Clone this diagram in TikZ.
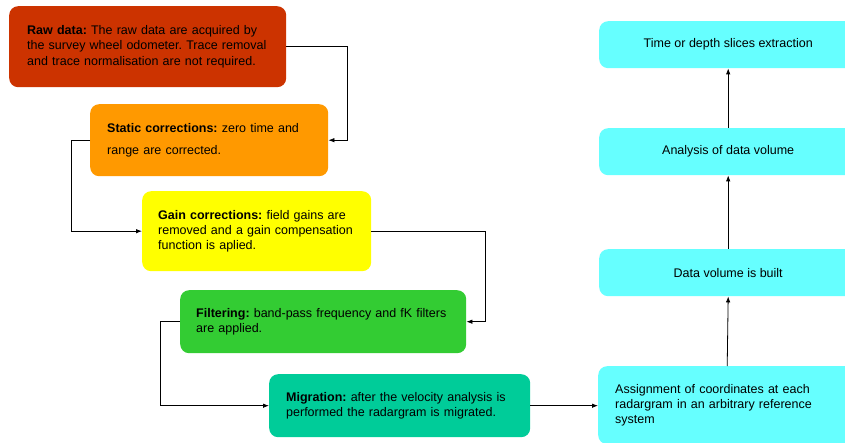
\documentclass[tikz,border=0pt]{standalone}
\usepackage{fontspec}
\setmainfont{Liberation Sans}
\usetikzlibrary{arrows.meta}
\definecolor{cRaw}{HTML}{CC3300}
\definecolor{cStatic}{HTML}{FF9900}
\definecolor{cGain}{HTML}{FFFF00}
\definecolor{cFilt}{HTML}{33CC33}
\definecolor{cMig}{HTML}{00CC99}
\definecolor{cCyan}{HTML}{66FFFF}
\tikzset{
  box/.style={rounded corners=9pt, draw=none, anchor=north west, inner ysep=0pt,
    align=left, font=\fontsize{12.5}{15.2}\selectfont\frenchspacing},
  cbox/.style={rounded corners=9pt, draw=none, fill=cCyan, anchor=north west, inner sep=0pt,
    align=center, minimum width=258pt, minimum height=47pt, font=\fontsize{12.5}{15.2}\selectfont},
  arr/.style={draw=black, line width=0.8pt, -{Latex[length=6pt,width=4.5pt]}}
}
\begin{document}
\begin{tikzpicture}[x=1pt,y=-1pt]
\useasboundingbox (0,0) rectangle (845,443);
\node[box, fill=cRaw, minimum width=277pt, minimum height=81pt, text width=241pt, inner xsep=18pt] (raw) at (9,6)
  {\mbox{\textbf{Raw data:} The raw data are acquired by}\\
   \mbox{the survey wheel odometer. Trace removal}\\
   \mbox{and trace normalisation are not required.}};
\node[box, fill=cStatic, minimum width=238pt, minimum height=72pt, text width=204pt, inner xsep=17pt,
  font=\fontsize{12.5}{22}\selectfont\frenchspacing] (static) at (90,104)
  {\mbox{\textbf{Static corrections:} zero time and}\\
   \mbox{range are corrected.}};
\node[box, fill=cGain, minimum width=229pt, minimum height=80pt, text width=197pt, inner xsep=16pt] (gain) at (142,191)
  {\mbox{\textbf{Gain corrections:} field gains are}\\
   \mbox{removed and a gain compensation}\\
   \mbox{function is aplied.}};
\node[box, fill=cFilt, minimum width=286pt, minimum height=63pt, text width=254pt, inner xsep=16pt] (filt) at (180,290)
  {\mbox{\textbf{Filtering:} band-pass frequency and fK filters}\\
   \mbox{are applied.}};
\node[box, fill=cMig, minimum width=261pt, minimum height=63pt, text width=227pt, inner xsep=17pt] (mig) at (269,374)
  {\mbox{\textbf{Migration:} after the velocity analysis is}\\
   \mbox{performed the radargram is migrated.}};
\node[box, fill=cCyan, minimum width=258pt, minimum height=78pt, text width=224pt, inner xsep=17pt] (assign) at (598,366)
  {\mbox{Assignment of coordinates at each}\\
   \mbox{radargram in an arbitrary reference}\\
   \mbox{system}};
\node[cbox] (data) at (599,249) {Data volume is built};
\node[cbox] (anal) at (599,128) {Analysis of data volume};
\node[cbox] (time) at (599,21) {Time or depth slices extraction};

\draw[arr] (raw.east) -- ++(61,0) |- (static.east);
\draw[arr] (static.west) -- ++(-19,0) |- (gain.west);
\draw[arr] (gain.east) -- ++(114,0) |- (filt.east);
\draw[arr] (filt.west) -- ++(-20,0) |- (mig.west);
\draw[arr] (mig.east) -- (mig.east -| assign.west);
\draw[arr] (assign.north) -- (data.south);
\draw[arr] (data.north) -- (anal.south);
\draw[arr] (anal.north) -- (time.south);
\end{tikzpicture}
\end{document}
